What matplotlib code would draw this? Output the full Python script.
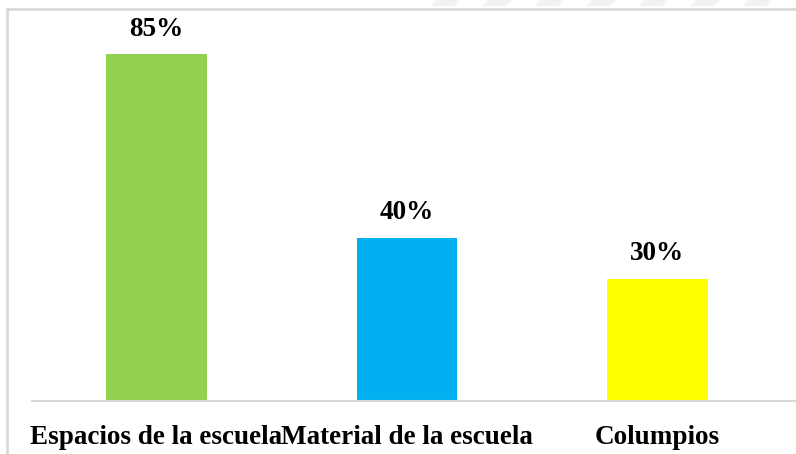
import matplotlib
matplotlib.use("Agg")
import matplotlib.pyplot as plt
from matplotlib.patches import Rectangle, Polygon

categorias = ["Espacios de la escuela", "Material de la escuela", "Columpios"]
valores = [85, 40, 30]
colores = ["#92d050", "#00b0f0", "#ffff00"]

fig = plt.figure(figsize=(7.96, 4.54), dpi=100)
W, H = 796, 454

# marco gris del grafico
fig.patches.append(Rectangle((7 / W, -0.1), 1.1, 1 - 9 / H + 0.1, transform=fig.transFigure,
                             fill=False, edgecolor="#d9d9d9", linewidth=2))
# rayas tenues arriba
for x0 in range(430, 800, 52):
    pts = [((x0 + 6) / W, 1), ((x0 + 30) / W, 1), ((x0 + 24) / W, 1 - 6 / H), (x0 / W, 1 - 6 / H)]
    fig.patches.append(Polygon(pts, closed=True, transform=fig.transFigure,
                               facecolor="#f2f2f4", edgecolor="none"))

ax = fig.add_axes([32 / W, 1 - 401 / H, 1 - 32 / W, (401 - 10) / H])
x = range(len(categorias))
barras = ax.bar(x, valores, width=0.403, color=colores)

ax.set_xlim(-0.497, 2.553)
ax.set_ylim(0, 95.8)
for b, v in zip(barras, valores):
    ax.text(b.get_x() + b.get_width() / 2, v + 3.0, f"{v}%", ha="center", va="bottom",
            fontsize=19.5, fontweight="bold", family="Liberation Serif")

ax.set_xticks(list(x))
ax.set_xticklabels(categorias, fontsize=19.5, fontweight="bold", family="Liberation Serif")
ax.tick_params(axis="x", length=0, pad=17)
ax.set_yticks([])
for s in ["top", "right", "left"]:
    ax.spines[s].set_visible(False)
ax.spines["bottom"].set_color("#d9d9d9")
ax.spines["bottom"].set_linewidth(1.5)
ax.patch.set_alpha(0)

fig.savefig("out.png", dpi=100)
